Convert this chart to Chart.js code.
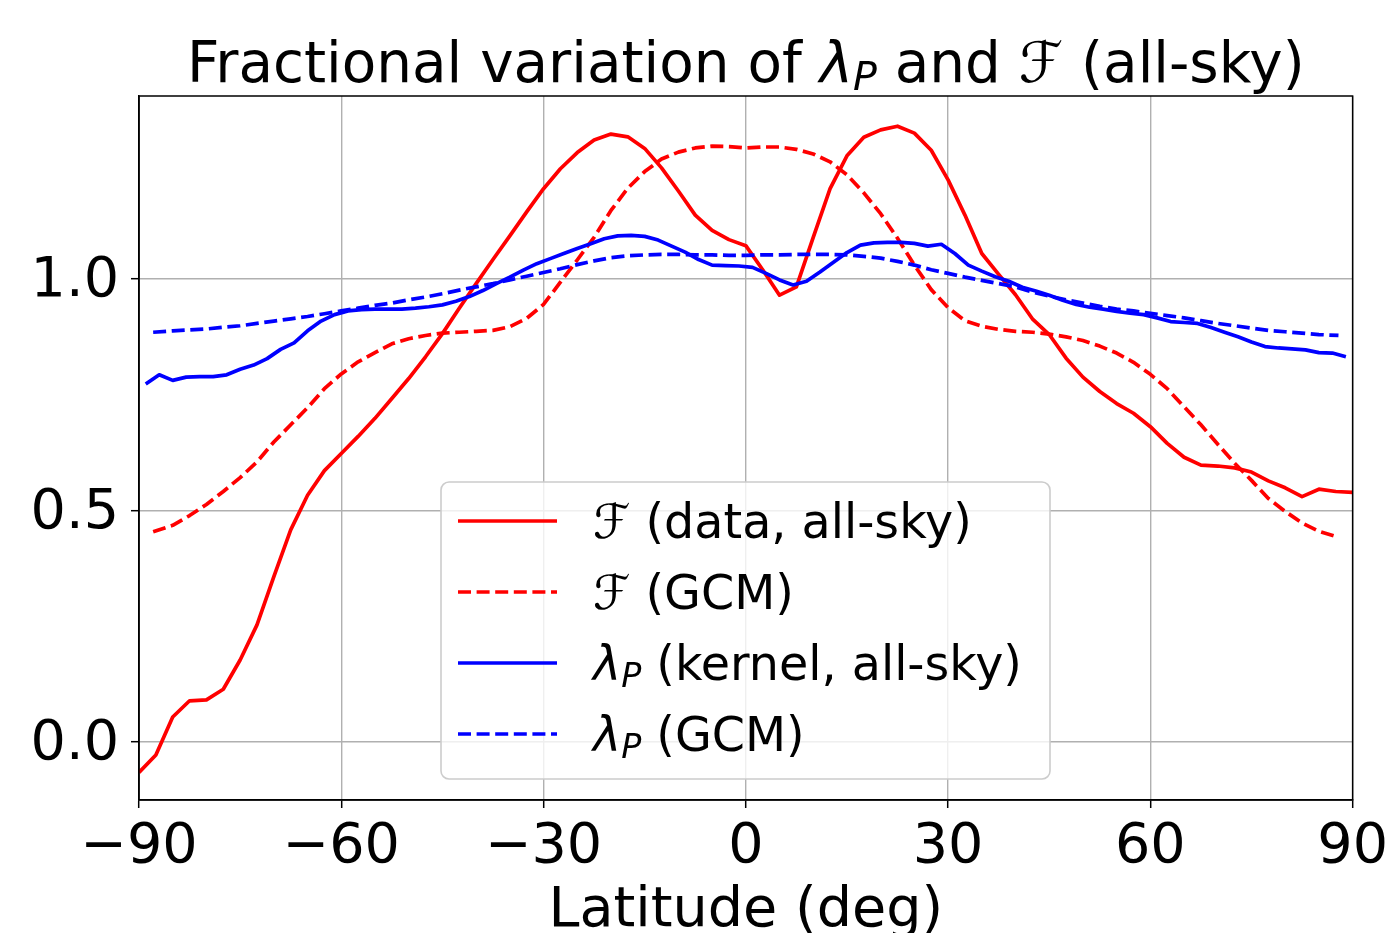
<!DOCTYPE html>
<html>
<head>
<meta charset="utf-8">
<script src="https://cdn.jsdelivr.net/npm/chart.js@4.4.1/dist/chart.umd.min.js"></script>
<style>
  html, body { margin: 0; padding: 0; background: #ffffff; }
  #wrap { width: 1394px; height: 933px; }
</style>
</head>
<body>
<div id="wrap"><canvas id="c" width="1394" height="933"></canvas></div>
<script>
// ---------------- data ----------------
const latData = [-90,-87.5,-85,-82.5,-80,-77.5,-75,-72.5,-70,-67.5,-65,-62.5,-60,-57.5,-55,-52.5,-50,-47.5,-45,-42.5,-40,-37.5,-35,-32.5,-30,-27.5,-25,-22.5,-20,-17.5,-15,-12.5,-10,-7.5,-5,-2.5,0,2.5,5,7.5,10,12.5,15,17.5,20,22.5,25,27.5,30,32.5,35,37.5,40,42.5,45,47.5,50,52.5,55,57.5,60,62.5,65,67.5,70,72.5,75,77.5,80,82.5,85,87.5,90];
const fData = [-0.066,-0.028,0.054,0.089,0.091,0.114,0.177,0.253,0.357,0.458,
  0.533,0.586,0.623,0.660,0.699,0.742,0.785,0.832,0.882,0.937,
  0.990,1.042,1.093,1.145,1.195,1.238,1.273,1.300,1.313,1.307,
  1.282,1.240,1.190,1.138,1.105,1.085,1.072,1.020,0.965,0.983,
  1.090,1.195,1.266,1.306,1.322,1.330,1.315,1.278,1.214,1.138,
  1.055,1.010,0.966,0.914,0.880,0.829,0.788,0.757,0.731,0.710,
  0.681,0.645,0.615,0.598,0.596,0.592,0.583,0.564,0.549,0.530,
  0.546,0.541,0.539];

const latGCM = [-87.9,-85,-82.5,-80,-77.5,-75,-72.5,-70,-67.5,-65,-62.5,-60,-57.5,-55,-52.5,-50,-47.5,-45,-42.5,-40,-37.5,-35,-32.5,-30,-27.5,-25,-22.5,-20,-17.5,-15,-12.5,-10,-7.5,-5,-2.5,0,2.5,5,7.5,10,12.5,15,17.5,20,22.5,25,27.5,30,32.5,35,37.5,40,42.5,45,47.5,50,52.5,55,57.5,60,62.5,65,67.5,70,72.5,75,77.5,80,82.5,85,87.9];
const fGCM = [0.454,0.468,0.489,0.513,0.541,0.571,0.605,0.648,0.685,0.722,
  0.763,0.795,0.821,0.841,0.860,0.871,0.878,0.883,0.885,0.887,
  0.889,0.897,0.915,0.945,0.993,1.041,1.090,1.148,1.196,1.232,
  1.259,1.274,1.283,1.287,1.286,1.283,1.285,1.285,1.280,1.270,
  1.253,1.225,1.186,1.141,1.088,1.030,0.977,0.938,0.910,0.898,
  0.891,0.887,0.885,0.881,0.875,0.867,0.855,0.840,0.820,0.794,
  0.763,0.724,0.685,0.643,0.602,0.565,0.526,0.498,0.473,0.455,0.442];

const latKernel = [-89,-87,-85,-83,-81,-79,-77,-75,-73,-71,-69,-67,-65,-63,-61,-59,-57,-55,-53,-51,-49,-47,-45,-43,-41,-39,-37,-35,-33,-31,-29,-27,-25,-23,-21,-19,-17,-15,-13,-11,-9,-7,-5,-3,-1,1,3,5,7,9,11,13,15,17,19,21,23,25,27,29,31,33,35,37,39,41,43,45,47,49,51,53,55,57,59,61,63,65,67,69,71,73,75,77,79,81,83,85,87,89];
const lamKernel = [0.773,0.793,0.781,0.788,0.789,0.789,0.793,0.805,0.814,0.828,
  0.848,0.862,0.888,0.909,0.923,0.931,0.934,0.935,0.935,0.935,
  0.937,0.940,0.944,0.952,0.962,0.975,0.990,1.004,1.019,1.033,
  1.044,1.055,1.066,1.076,1.087,1.093,1.094,1.092,1.084,1.071,
  1.058,1.042,1.030,1.029,1.028,1.025,1.012,0.998,0.987,0.995,
  1.015,1.036,1.057,1.073,1.078,1.079,1.079,1.077,1.071,1.075,
  1.055,1.030,1.017,1.005,0.995,0.982,0.974,0.965,0.954,0.945,
  0.939,0.935,0.930,0.926,0.923,0.916,0.908,0.906,0.904,0.895,
  0.885,0.875,0.864,0.854,0.851,0.849,0.847,0.841,0.840,0.832];

const lamGCM = [0.885,0.888,0.890,0.892,0.896,0.899,0.904,0.909,0.914,0.919,
  0.925,0.931,0.937,0.943,0.948,0.955,0.961,0.968,0.976,0.983,
  0.990,0.998,1.006,1.014,1.022,1.031,1.039,1.046,1.050,1.052,
  1.053,1.053,1.052,1.052,1.051,1.051,1.052,1.052,1.053,1.053,
  1.053,1.052,1.049,1.045,1.038,1.030,1.020,1.012,1.004,0.997,
  0.990,0.983,0.972,0.963,0.955,0.948,0.941,0.935,0.931,0.926,
  0.921,0.916,0.910,0.904,0.899,0.894,0.889,0.886,0.883,0.880,0.878];

const xTicks = [-90, -60, -30, 0, 30, 60, 90];
const yTicks = [0.0, 0.5, 1.0];

// ---------------- styling ----------------
const FONT = '"DejaVu Sans", "Liberation Sans", sans-serif';
const LW = 3.7;
const DASH = [13, 5.6];

function pts(xs, ys) { return xs.map((x, i) => ({ x: x, y: ys[i] })); }

// draw a run of text segments (normal / italic / subscript)
function runWidth(ctx, segs) {
  let w = 0;
  for (const s of segs) { ctx.font = s.f; w += ctx.measureText(s.t).width; }
  return w;
}
function drawRun(ctx, segs, x, y) {
  for (const s of segs) {
    ctx.font = s.f;
    ctx.fillText(s.t, x, y + (s.dy || 0));
    x += ctx.measureText(s.t).width;
  }
  return x;
}

const overlay = {
  id: 'overlay',
  afterDraw(chart) {
    const ctx = chart.ctx, a = chart.chartArea;
    ctx.save();
    // frame (spines)
    ctx.strokeStyle = '#000000';
    ctx.lineWidth = 1.5;
    ctx.strokeRect(a.left, a.top, a.right - a.left, a.bottom - a.top);

    ctx.fillStyle = '#000000';
    ctx.textBaseline = 'alphabetic';
    ctx.textAlign = 'left';

    const big = 56.4, nrm = big + 'px ' + FONT, ita = 'oblique ' + big + 'px ' + FONT;
    const sub = 'oblique ' + (big * 0.7).toFixed(1) + 'px ' + FONT;
    // title
    const title = [
      { t: 'Fractional variation of ', f: nrm },
      { t: 'λ', f: ita },
      { t: 'P', f: sub, dy: 8 },
      { t: ' and ', f: nrm },
      { t: 'ℱ', f: ita },
      { t: ' (all-sky)', f: nrm }
    ];
    const cx = (a.left + a.right) / 2;
    drawRun(ctx, title, cx - runWidth(ctx, title) / 2, 82);

    // x axis label
    ctx.font = '55.6px ' + FONT;
    ctx.textAlign = 'center';
    ctx.fillText('Latitude (deg)', cx, 926);
    ctx.textAlign = 'left';

    // legend
    const lx = 441, ly = 482, lw = 609, lh = 297;
    ctx.beginPath();
    ctx.roundRect(lx, ly, lw, lh, 8);
    ctx.fillStyle = 'rgba(255,255,255,0.8)';
    ctx.fill();
    ctx.strokeStyle = '#cccccc';
    ctx.lineWidth = 1.6;
    ctx.stroke();

    const fs = 47.6, lf = fs + 'px ' + FONT, li = 'oblique ' + fs + 'px ' + FONT;
    const ls = 'oblique ' + (fs * 0.7).toFixed(1) + 'px ' + FONT;
    const entries = [
      [{ t: 'ℱ', f: li }, { t: ' (data, all-sky)', f: lf }],
      [{ t: 'ℱ', f: li }, { t: ' (GCM)', f: lf }],
      [{ t: 'λ', f: li }, { t: 'P', f: ls, dy: 7 }, { t: ' (kernel, all-sky)', f: lf }],
      [{ t: 'λ', f: li }, { t: 'P', f: ls, dy: 7 }, { t: ' (GCM)', f: lf }]
    ];
    const rowY = [521, 592, 663, 734];
    chart.data.datasets.forEach((ds, i) => {
      const y = rowY[i];
      ctx.beginPath();
      ctx.setLineDash(ds.borderDash || []);
      ctx.lineDashOffset = 0;
      ctx.strokeStyle = ds.borderColor;
      ctx.lineWidth = ds.borderWidth;
      ctx.lineCap = 'butt';
      ctx.moveTo(458, y);
      ctx.lineTo(557, y);
      ctx.stroke();
      ctx.setLineDash([]);
      ctx.fillStyle = '#000000';
      drawRun(ctx, entries[i], 593, y + 17);
    });
    ctx.restore();
  }
};

const ctx = document.getElementById('c').getContext('2d');
new Chart(ctx, {
  type: 'line',
  data: {
    datasets: [
      { label: 'F (data, all-sky)', data: pts(latData, fData), borderColor: '#ff0000', borderWidth: LW, order: 4 },
      { label: 'F (GCM)', data: pts(latGCM, fGCM), borderColor: '#ff0000', borderWidth: LW, borderDash: DASH, order: 3 },
      { label: 'λP (kernel, all-sky)', data: pts(latKernel, lamKernel), borderColor: '#0000ff', borderWidth: LW, order: 2 },
      { label: 'λP (GCM)', data: pts(latGCM, lamGCM), borderColor: '#0000ff', borderWidth: LW, borderDash: DASH, order: 1 }
    ]
  },
  options: {
    responsive: false,
    animation: false,
    devicePixelRatio: 1,
    layout: { padding: { left: 0, right: 41, top: 96, bottom: 0 } },
    elements: {
      point: { radius: 0, hoverRadius: 0 },
      line: { tension: 0, fill: false, borderCapStyle: 'butt', borderJoinStyle: 'round' }
    },
    plugins: {
      legend: { display: false },
      title: { display: false },
      tooltip: { enabled: false }
    },
    scales: {
      x: {
        type: 'linear',
        min: -90, max: 90,
        afterBuildTicks: s => { s.ticks = xTicks.map(v => ({ value: v })); },
        afterFit: s => { s.height = 133; },
        grid: { color: '#b0b0b0', lineWidth: 1.4, drawTicks: true, tickLength: 8, tickColor: '#000000', tickWidth: 1.5 },
        border: { display: true, color: '#000000', width: 1.5 },
        ticks: {
          color: '#000000',
          font: { family: FONT, size: 55.6 },
          padding: 6,
          maxRotation: 0,
          autoSkip: false,
          callback: v => (v < 0 ? '\u2212' + Math.abs(v) : String(v))
        }
      },
      y: {
        type: 'linear',
        min: -0.1253, max: 1.3952,
        afterBuildTicks: s => { s.ticks = yTicks.map(v => ({ value: v })); },
        afterFit: s => { s.width = 139; },
        grid: { color: '#b0b0b0', lineWidth: 1.4, drawTicks: true, tickLength: 8, tickColor: '#000000', tickWidth: 1.5 },
        border: { display: true, color: '#000000', width: 1.5 },
        ticks: {
          color: '#000000',
          font: { family: FONT, size: 55.6 },
          padding: 12,
          labelOffset: 3,
          autoSkip: false,
          callback: v => Number(v).toFixed(1)
        }
      }
    }
  },
  plugins: [overlay]
});
</script>
</body>
</html>
